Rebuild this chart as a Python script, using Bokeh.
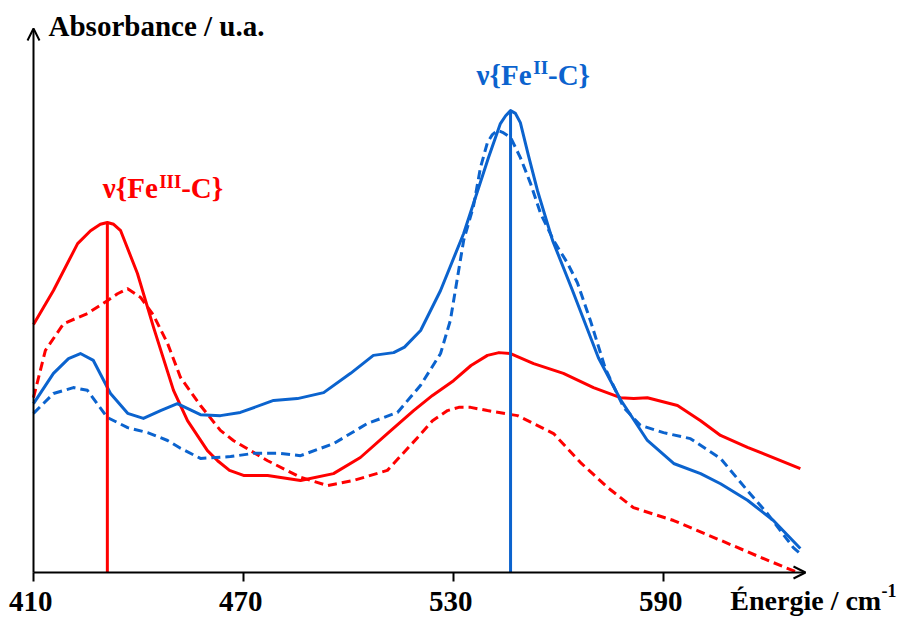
import numpy as np
from bokeh.plotting import figure
from bokeh.models import Range1d, Label, Arrow, OpenHead
from bokeh.embed import file_html
from bokeh.resources import INLINE

# ---------------- data (energy in cm-1, absorbance in arbitrary units) ----------------
fe3_solid_x = [410.0, 415.7, 422.6, 426.3, 429.1, 431.1, 432.9, 434.9, 439.7, 444.3, 450.0, 454.0,
               459.7, 462.6, 466.0, 470.0, 476.9, 486.3, 495.7, 503.4, 511.1, 518.6, 524.0, 530.0,
               535.0, 539.7, 543.0, 546.3, 552.9, 561.4, 570.0, 577.7, 581.5, 585.4, 594.0, 600.6,
               606.3, 614.0, 629.1]
fe3_solid_y = [0.539, 0.613, 0.715, 0.743, 0.757, 0.761, 0.757, 0.743, 0.650, 0.533, 0.396, 0.330,
               0.265, 0.243, 0.222, 0.211, 0.211, 0.200, 0.215, 0.250, 0.302, 0.352, 0.385, 0.417,
               0.450, 0.472, 0.478, 0.476, 0.454, 0.433, 0.402, 0.380, 0.378, 0.380, 0.363, 0.330,
               0.298, 0.272, 0.226]

fe3_dash_x = [410.0, 413.4, 418.6, 425.4, 431.1, 434.0, 436.9, 440.6, 444.3, 448.3, 452.0, 457.7,
              463.4, 467.1, 476.9, 486.3, 494.0, 501.4, 511.1, 519.7, 524.0, 528.3, 531.5, 534.9,
              539.7, 548.3, 558.6, 566.3, 574.0, 581.4, 592.9, 606.3, 617.7, 628.3]
fe3_dash_y = [0.380, 0.483, 0.541, 0.563, 0.591, 0.606, 0.617, 0.598, 0.559, 0.498, 0.424, 0.363,
              0.309, 0.287, 0.243, 0.207, 0.189, 0.200, 0.222, 0.293, 0.330, 0.352, 0.359, 0.359,
              0.352, 0.341, 0.302, 0.239, 0.185, 0.141, 0.113, 0.070, 0.033, 0.000]

fe2_solid_x = [410.0, 415.7, 420.0, 423.4, 427.1, 432.0, 436.9, 441.4, 446.3, 451.1, 457.7, 463.4,
               469.1, 478.6, 485.4, 492.9, 500.6, 507.1, 512.9, 516.0, 520.6, 526.3, 532.9, 536.9,
               540.0, 543.4, 544.9, 546.3, 547.7, 549.1, 551.4, 554.0, 558.3, 564.0, 571.4, 577.7,
               585.4, 592.9, 600.6, 606.3, 614.0, 621.4, 629.1]
fe2_solid_y = [0.367, 0.433, 0.465, 0.476, 0.461, 0.389, 0.346, 0.335, 0.352, 0.367, 0.343, 0.341,
               0.348, 0.374, 0.378, 0.391, 0.433, 0.472, 0.478, 0.490, 0.526, 0.613, 0.737, 0.830,
               0.902, 0.976, 0.993, 1.004, 0.998, 0.978, 0.907, 0.830, 0.722, 0.613, 0.467, 0.376,
               0.287, 0.237, 0.215, 0.193, 0.157, 0.113, 0.052]

fe2_dash_x = [410.0, 415.7, 421.4, 425.4, 431.1, 436.9, 442.6, 448.3, 452.0, 457.7, 466.3, 472.9,
              480.6, 486.3, 495.7, 505.4, 514.0, 520.6, 526.3, 529.1, 532.9, 535.7, 537.7, 539.7,
              541.1, 542.6, 544.0, 546.3, 549.1, 552.0, 554.9, 558.6, 562.6, 565.4, 569.1, 573.4,
              578.6, 583.4, 590.0, 597.7, 606.3, 614.0, 619.7, 627.1, 629.1]
fe2_dash_y = [0.346, 0.389, 0.402, 0.396, 0.337, 0.315, 0.304, 0.287, 0.270, 0.248, 0.252, 0.259,
              0.259, 0.254, 0.280, 0.324, 0.348, 0.407, 0.476, 0.548, 0.722, 0.796, 0.880, 0.935,
              0.952, 0.961, 0.957, 0.946, 0.902, 0.846, 0.780, 0.722, 0.672, 0.630, 0.548, 0.443,
              0.359, 0.320, 0.304, 0.291, 0.248, 0.178, 0.128, 0.054, 0.041]

tick_values = [410, 470, 530, 590]
tick_labels = ["410", "470", "530", "590"]

RED = "#FF0000"
BLUE = "#0B63CE"
FONT = "Liberation Serif"

# axis extent (data) and the full-canvas view range around it
AX_X0, AX_X1 = 410.0, 630.57
AX_Y0, AX_Y1 = 0.0, 1.1826
TICK_LEN = 9 / 460.0

p = figure(width=907, height=618, output_backend="svg", toolbar_location=None,
           x_range=Range1d(400.571, 659.714), y_range=Range1d(-0.1, 1.24348),
           x_axis_location=None, y_axis_location=None,
           min_border_left=0, min_border_right=0, min_border_top=0, min_border_bottom=0)
p.outline_line_color = None
p.xgrid.visible = False
p.ygrid.visible = False
p.background_fill_color = "white"

# axes drawn as arrows, with tick marks
p.add_layout(Arrow(x_start=AX_X0, y_start=AX_Y0, x_end=AX_X0, y_end=AX_Y1, line_width=2,
                   line_color="black", end=OpenHead(size=12, line_width=2, line_color="black")))
p.add_layout(Arrow(x_start=AX_X0, y_start=AX_Y0, x_end=AX_X1, y_end=AX_Y0, line_width=2,
                   line_color="black", end=OpenHead(size=12, line_width=2, line_color="black")))
p.segment(x0=tick_values, y0=[AX_Y0] * len(tick_values), x1=tick_values,
          y1=[AX_Y0 - TICK_LEN] * len(tick_values), line_color="black", line_width=2)

# curves
p.line(fe3_solid_x, fe3_solid_y, line_color=RED, line_width=3, line_join="round")
p.line(fe3_dash_x, fe3_dash_y, line_color=RED, line_width=3, line_dash="9 5", line_join="round")
p.line(fe2_solid_x, fe2_solid_y, line_color=BLUE, line_width=3, line_join="round")
p.line(fe2_dash_x, fe2_dash_y, line_color=BLUE, line_width=3, line_dash="9 5", line_join="round")

# vertical markers at the solid-curve maxima
i3 = int(np.argmax(fe3_solid_y))
i2 = int(np.argmax(fe2_solid_y))
p.segment(x0=[fe3_solid_x[i3]], y0=[0], x1=[fe3_solid_x[i3]], y1=[fe3_solid_y[i3]],
          line_color=RED, line_width=3)
p.segment(x0=[fe2_solid_x[i2]], y0=[0], x1=[fe2_solid_x[i2]], y1=[fe2_solid_y[i2]],
          line_color=BLUE, line_width=3)

def lab(x, y, text, size, color="black", align="left"):
    p.add_layout(Label(x=x, y=y, text=text, text_font=FONT, text_font_style="bold",
                       text_font_size=size, text_color=color, text_align=align,
                       text_baseline="alphabetic"))

# tick labels
for tv, tl in zip(tick_values, tick_labels):
    lab(tv - 0.8, -0.063, tl, "29px", align="center")

# axis titles
lab(414.3, 1.189, "Absorbance / u.a.", "29px")
lab(609.1, -0.061, "Énergie / cm", "28px")
lab(652.3, -0.040, "-1", "18px")

# band labels
lab(429.8, 0.835, "ν{Fe", "29px", RED)
lab(445.9, 0.851, "III", "19px", RED)
lab(452.2, 0.835, "-C}", "29px", RED)

lab(536.6, 1.081, "ν{Fe", "29px", BLUE)
lab(552.8, 1.097, "II", "19px", BLUE)
lab(557.0, 1.081, "-C}", "29px", BLUE)

open("out.html", "w").write(file_html(p, INLINE))
